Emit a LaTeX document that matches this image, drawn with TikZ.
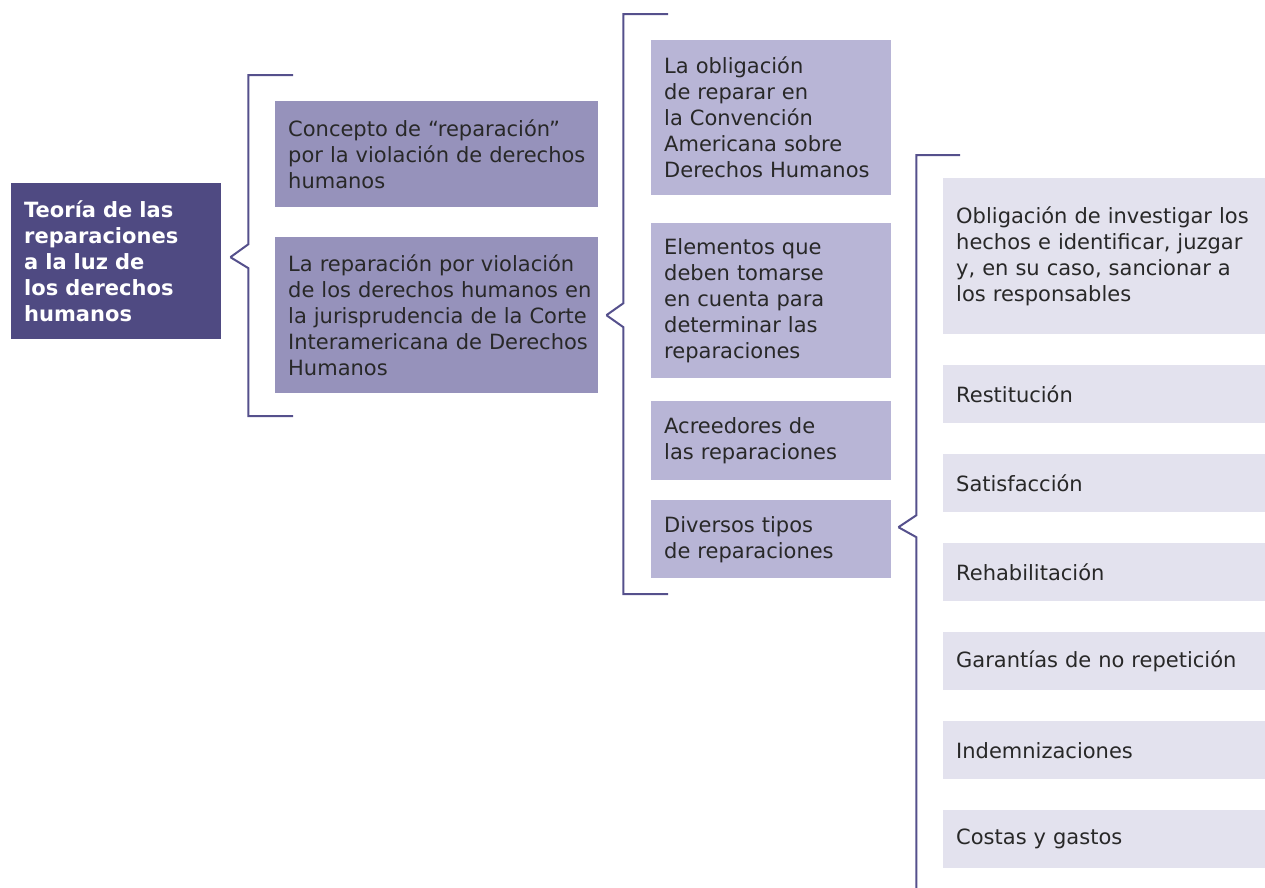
\documentclass[tikz,border=0pt]{standalone}
\usepackage{fontspec}
\setmainfont{DejaVu Sans}
\usetikzlibrary{calc}

\definecolor{rootColor}{RGB}{79,74,130}
\definecolor{levelOneColor}{RGB}{150,146,187}
\definecolor{levelTwoColor}{RGB}{184,181,214}
\definecolor{levelThreeColor}{RGB}{227,226,238}
\definecolor{lineColor}{RGB}{85,80,140}
\definecolor{textColor}{RGB}{40,40,40}

\begin{document}
\begin{tikzpicture}
[x=1pt,y=-1pt,
  boxDecorate/.style={rectangle,anchor=north west,align=left,inner sep=0pt,
    execute at begin node={\leftskip=13pt},
    text=textColor,font=\fontsize{21}{26}\selectfont},%
  rootDecorate/.style={boxDecorate,fill=rootColor,text=white,font=\bfseries\fontsize{21}{26}\selectfont,
    text width=210pt,minimum height=156pt},%
  levelOneDecorate/.style={boxDecorate,fill=levelOneColor,text width=323pt},%
  levelTwoDecorate/.style={boxDecorate,fill=levelTwoColor,text width=240pt},%
  levelThreeDecorate/.style={boxDecorate,fill=levelThreeColor,text width=322pt,minimum height=58pt},%
  lineDecorate/.style={-,line width=2pt,draw=lineColor}]
\useasboundingbox (0,0) rectangle (1265,887);
%% nodes or boxes
\node[rootDecorate] (teoria) at (11,183) {Teoría de las\\reparaciones\\a la luz de\\los derechos\\humanos};
\node[levelOneDecorate,minimum height=106pt] (concepto) at (275,101)
  {Concepto de “reparación”\\por la violación de derechos\\humanos};
\node[levelOneDecorate,minimum height=156pt] (jurisprudencia) at (275,237)
  {La reparación por violación\\de los derechos humanos en\\la jurisprudencia de la Corte\\Interamericana de Derechos\\Humanos};
\node[levelTwoDecorate,minimum height=155pt] (obligacion) at (651,40)
  {La obligación\\de reparar en\\la Convención\\Americana sobre\\Derechos Humanos};
\node[levelTwoDecorate,minimum height=155pt] (elementos) at (651,223)
  {Elementos que\\deben tomarse\\en cuenta para\\determinar las\\reparaciones};
\node[levelTwoDecorate,minimum height=79pt] (acreedores) at (651,401)
  {Acreedores de\\las reparaciones};
\node[levelTwoDecorate,minimum height=78pt] (tipos) at (651,500)
  {Diversos tipos\\de reparaciones};
\node[levelThreeDecorate,minimum height=156pt] (investigar) at (943,178)
  {Obligación de investigar los\\hechos e identificar, juzgar\\y, en su caso, sancionar a\\los responsables};
\foreach \nodename/\y/\label in {restitucion/365/Restitución, satisfaccion/454/Satisfacción,
  rehabilitacion/543/Rehabilitación, garantias/632/Garantías de no repetición,
  indemnizaciones/721/Indemnizaciones, costas/810/Costas y gastos}
{
  \node[levelThreeDecorate] (\nodename) at (943,\y) {\label};
}
%% brackets
\coordinate (tipTeoria) at ($(teoria.east)+(9,-4)$);
\draw[lineDecorate] (tipTeoria) -- ++(18,-13) |- (293,75);
\draw[lineDecorate] (tipTeoria) -- ++(18,11) |- (293,416);
\coordinate (tipJurisprudencia) at ($(jurisprudencia.east)+(8,0)$);
\draw[lineDecorate] (tipJurisprudencia) -- ++(17,-12) |- (668,14);
\draw[lineDecorate] (tipJurisprudencia) -- ++(17,12) |- (668,594);
\coordinate (tipTipos) at ($(tipos.east)+(7,-12)$);
\draw[lineDecorate] (tipTipos) -- ++(18,-12) |- (960,155);
\draw[lineDecorate] (tipTipos) -- ++(18,10) -- ++(0,360);
\end{tikzpicture}
\end{document}
